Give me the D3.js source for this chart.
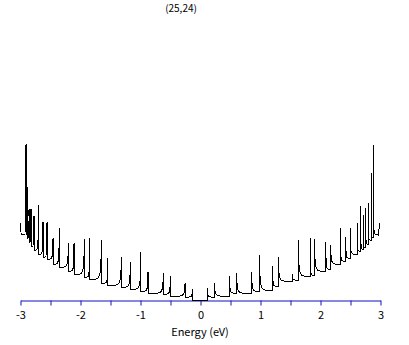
<!DOCTYPE html>
<html>
<head>
<meta charset="utf-8">
<script src="https://cdn.jsdelivr.net/npm/d3@7"></script>
<style>
body { margin: 0; background: #fff; }
svg { display: block; }
text { font-family: "Noto Sans CJK JP", "DejaVu Sans", sans-serif; }
</style>
</head>
<body>
<svg width="409" height="345"></svg>
<script>
'use strict';

// van Hove spikes (energy in eV, DOS in arbitrary units)
// negative side: tail on the left, vertical drop on the right down to the foot
var negE    = [-2.908,-2.892,-2.880,-2.858,-2.825,-2.775,-2.700,-2.625,-2.558,-2.458,-2.353,-2.203,-2.108,-1.937,-1.842,-1.653,-1.542,-1.320,-1.170,-0.992,-0.875,-0.620,-0.503,-0.258,-0.133];
var negPeak = [156,127,113,91,91,84,95,78,78,62,72,57,57,61,62,60,42,43,38,48,28,27,24,17,11];
var negFoot = [68,66,62,58,54,50,46,43,41,36,33,29,26,23,21,17,15,13,11,9,7,6,4,3,0];

// positive side: vertical rise from the foot, tail on the right
var posE    = [0.113,0.233,0.485,0.603,0.853,0.983,1.197,1.297,1.530,1.630,1.825,1.900,2.087,2.170,2.325,2.420,2.492,2.613,2.670,2.713,2.753,2.797,2.842,2.880];
var posPeak = [12,17,24,27,28,45,34,43,26,60,62,61,58,55,72,63,72,77,94,85,92,97,127,155];
var posFoot = [0,3,4,7,7,9,10,14,19,20,24,25,29,31,36,39,42,46,49,51,53,56,60,63];

// band edges at -3 and 3 eV
var edgeLeft  = [[-3.0,77],[-2.99,66],[-2.96,66]];
var edgeRight = [[2.94,66],[2.965,65],[2.985,77]];

var tickVals = d3.range(-3, 3.01, 0.5);

var svg = d3.select('svg');
var x = d3.scaleLinear().domain([-3,3]).range([20.5,380.5]);
var y = d3.scaleLinear().domain([0,160]).range([300,140]);

// axis
var axis = svg.append('g')
	.attr('transform','translate(0,300.5)')
	.call(d3.axisBottom(x)
		.tickValues(tickVals)
		.tickSize(5)
		.tickSizeOuter(0)
		.tickPadding(6)
		.tickFormat(function(d){ return d % 1 === 0 ? String(d).replace('\u2212','-') : ''; }));
axis.select('.domain').attr('stroke','#1010c8');
axis.selectAll('.tick line').attr('stroke','#1010c8');
axis.selectAll('.tick text').attr('fill','#000').style('font-size','11px');

svg.append('text')
	.attr('x',200).attr('y',336)
	.attr('text-anchor','middle')
	.style('font-size','11px')
	.text('Energy (eV)');

svg.append('text')
	.attr('x',181).attr('y',12)
	.attr('text-anchor','middle')
	.style('font-size','10px')
	.text('(25,24)');

// curve
var p = d3.path();
p.moveTo(x(edgeLeft[0][0]), y(edgeLeft[0][1]));
for (var i=1; i<edgeLeft.length; i++){
	p.lineTo(x(edgeLeft[i][0]), y(edgeLeft[i][1]));
}
var prevE = edgeLeft[edgeLeft.length-1][0];
var prevV = edgeLeft[edgeLeft.length-1][1];
for (var i=0; i<negE.length; i++){
	var w = Math.min(0.45*(negE[i]-prevE), 0.09);
	var h = negPeak[i]-prevV;
	p.lineTo(x(negE[i]-w), y(prevV));
	p.bezierCurveTo(x(negE[i]-0.25*w), y(prevV), x(negE[i]-0.02*w), y(prevV+0.15*h), x(negE[i]), y(negPeak[i]));
	p.lineTo(x(negE[i]), y(negFoot[i]));
	prevE = negE[i];
	prevV = negFoot[i];
}
for (var i=0; i<posE.length; i++){
	p.lineTo(x(posE[i]), y(posFoot[i]));
	p.lineTo(x(posE[i]), y(posPeak[i]));
	var nextE = i<posE.length-1 ? posE[i+1] : edgeRight[0][0];
	var nextV = i<posE.length-1 ? posFoot[i+1] : edgeRight[0][1];
	var w = Math.min(0.45*(nextE-posE[i]), 0.09);
	var h = posPeak[i]-nextV;
	p.bezierCurveTo(x(posE[i]+0.02*w), y(nextV+0.15*h), x(posE[i]+0.25*w), y(nextV), x(posE[i]+w), y(nextV));
}
for (var i=0; i<edgeRight.length; i++){
	p.lineTo(x(edgeRight[i][0]), y(edgeRight[i][1]));
}

svg.append('path')
	.attr('d', p.toString())
	.attr('fill','none')
	.attr('stroke','#000')
	.attr('stroke-width',1)
	.style('shape-rendering','crispEdges');
</script>
</body>
</html>
